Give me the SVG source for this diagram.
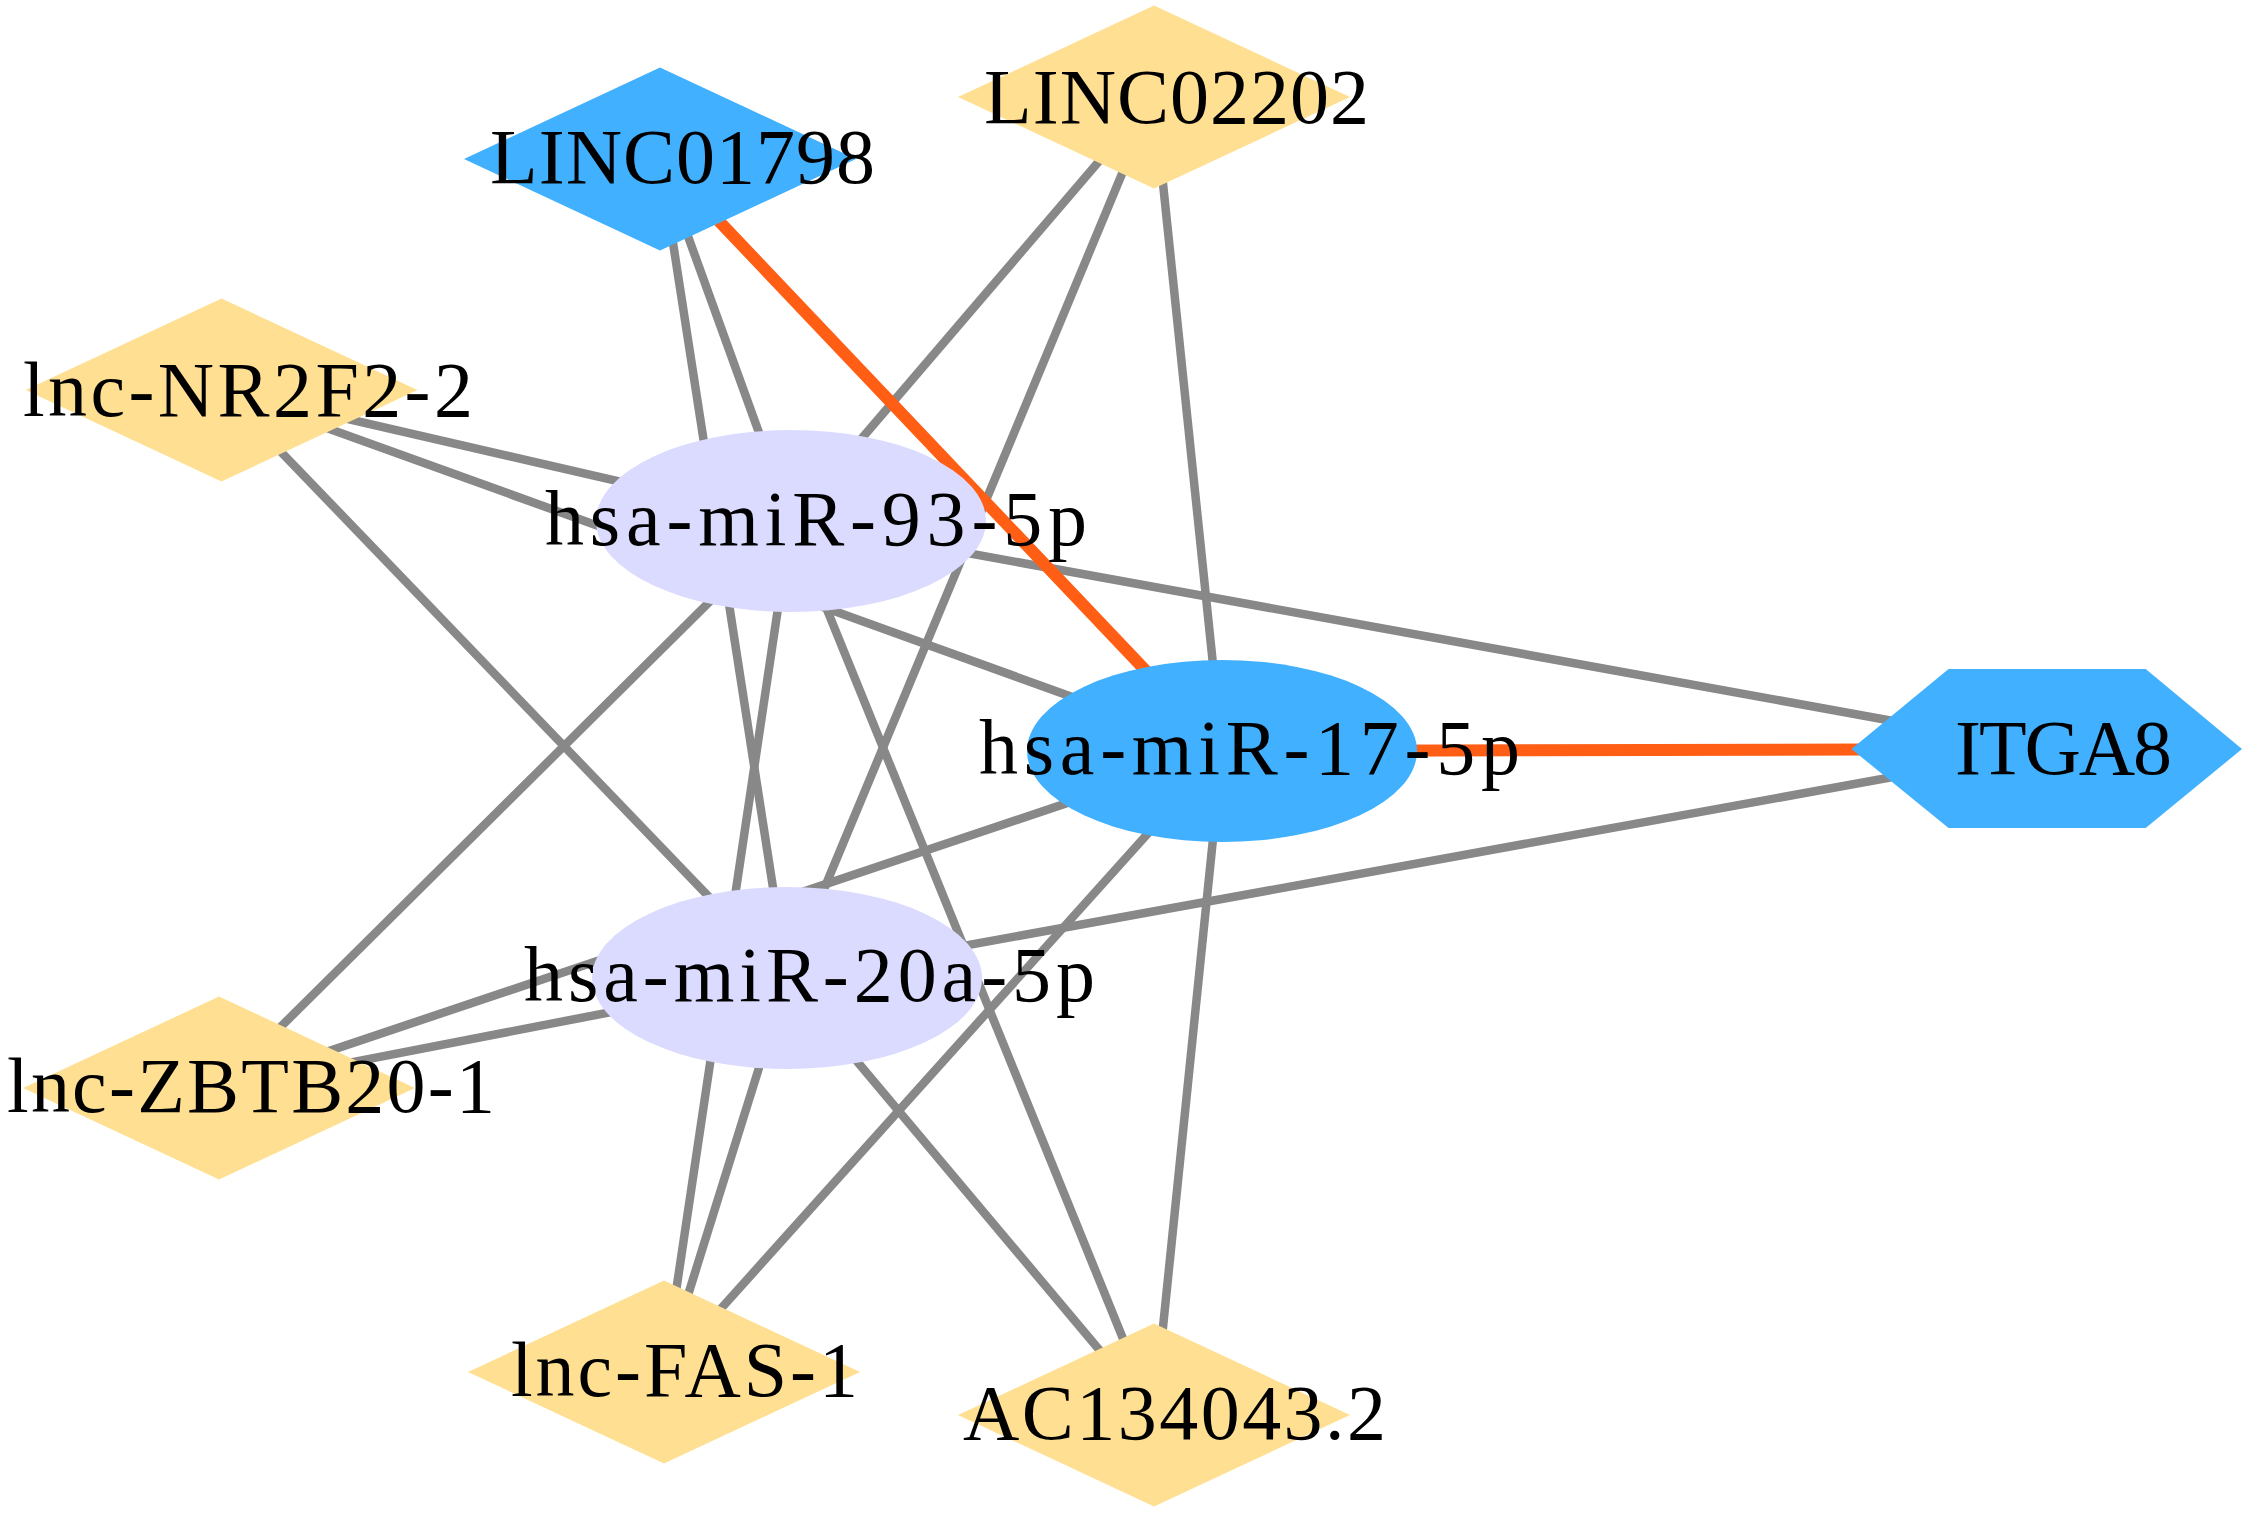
<svg xmlns="http://www.w3.org/2000/svg" width="2250" height="1513" viewBox="0 0 2250 1513">
<style>
.e{stroke:#888888;stroke-width:8.5;fill:none}
.o{stroke:#FF5E14;stroke-width:12;fill:none;stroke-linecap:round}
.lnc{fill:#FFE093}
.blue{fill:#41B0FF}
.mir{fill:#DBDBFF}
text{font-family:"Liberation Serif","Times New Roman",serif;font-size:78px;fill:#000000}
</style>
<rect width="2250" height="1513" fill="#FFFFFF"/>
<g id="connectors">
<line class="e" x1="660" y1="159" x2="791" y2="521"/>
<line class="e" x1="660" y1="159" x2="787" y2="978"/>
<line class="e" x1="1154" y1="97" x2="791" y2="521"/>
<line class="e" x1="1154" y1="97" x2="787" y2="978"/>
<line class="e" x1="1154" y1="97" x2="1222" y2="751"/>
<line class="e" x1="221.5" y1="390" x2="791" y2="521"/>
<line class="e" x1="221.5" y1="390" x2="787" y2="978"/>
<line class="e" x1="221.5" y1="390" x2="1222" y2="751"/>
<line class="e" x1="219" y1="1088" x2="791" y2="521"/>
<line class="e" x1="219" y1="1088" x2="787" y2="978"/>
<line class="e" x1="219" y1="1088" x2="1222" y2="751"/>
<line class="e" x1="664" y1="1372" x2="791" y2="521"/>
<line class="e" x1="664" y1="1372" x2="787" y2="978"/>
<line class="e" x1="664" y1="1372" x2="1222" y2="751"/>
<line class="e" x1="1154" y1="1415" x2="791" y2="521"/>
<line class="e" x1="1154" y1="1415" x2="787" y2="978"/>
<line class="e" x1="1154" y1="1415" x2="1222" y2="751"/>
<line class="e" x1="791" y1="521" x2="2047" y2="749"/>
<line class="e" x1="787" y1="978" x2="2047" y2="749"/>
<line class="o" x1="660" y1="159" x2="1222" y2="751"/>
<line class="o" x1="1222" y1="751" x2="2047" y2="749"/>
</g>
<g id="LINC01798">
<polygon class="blue" points="464,159 660,67.5 856,159 660,250.5"/>
<text x="490" y="183" textLength="385" lengthAdjust="spacing">LINC01798</text>
</g>
<g id="LINC02202">
<polygon class="lnc" points="958,97 1154,5.5 1350,97 1154,188.5"/>
<text x="984" y="123" textLength="385" lengthAdjust="spacing">LINC02202</text>
</g>
<g id="lnc-NR2F2-2">
<polygon class="lnc" points="25.5,390 221.5,298.5 417.5,390 221.5,481.5"/>
<text x="23" y="416" textLength="450" lengthAdjust="spacing">lnc-NR2F2-2</text>
</g>
<g id="lnc-ZBTB20-1">
<polygon class="lnc" points="23,1088 219,996.5 415,1088 219,1179.5"/>
<text x="7" y="1112" textLength="488" lengthAdjust="spacing">lnc-ZBTB20-1</text>
</g>
<g id="lnc-FAS-1">
<polygon class="lnc" points="468,1372 664,1280.5 860,1372 664,1463.5"/>
<text x="511" y="1396" textLength="347" lengthAdjust="spacing">lnc-FAS-1</text>
</g>
<g id="AC134043.2">
<polygon class="lnc" points="958,1415 1154,1323.5 1350,1415 1154,1506.5"/>
<text x="963" y="1439" textLength="423" lengthAdjust="spacing">AC134043.2</text>
</g>
<g id="hsa-miR-93-5p">
<ellipse class="mir" cx="791" cy="521" rx="195" ry="91"/>
<text x="545" y="545" textLength="542" lengthAdjust="spacing">hsa-miR-93-5p</text>
</g>
<g id="hsa-miR-20a-5p">
<ellipse class="mir" cx="787" cy="978" rx="195" ry="91"/>
<text x="524" y="1001" textLength="571" lengthAdjust="spacing">hsa-miR-20a-5p</text>
</g>
<g id="hsa-miR-17-5p">
<ellipse class="blue" cx="1222" cy="751" rx="195" ry="91"/>
<text x="979" y="774" textLength="541" lengthAdjust="spacing">hsa-miR-17-5p</text>
</g>
<g id="ITGA8">
<polygon class="blue" points="1851.5,749 1948.6,669 2145.7,669 2242,749 2145.7,828 1948.6,828"/>
<text x="1955" y="774" textLength="217" lengthAdjust="spacing">ITGA8</text>
</g>
</svg>
